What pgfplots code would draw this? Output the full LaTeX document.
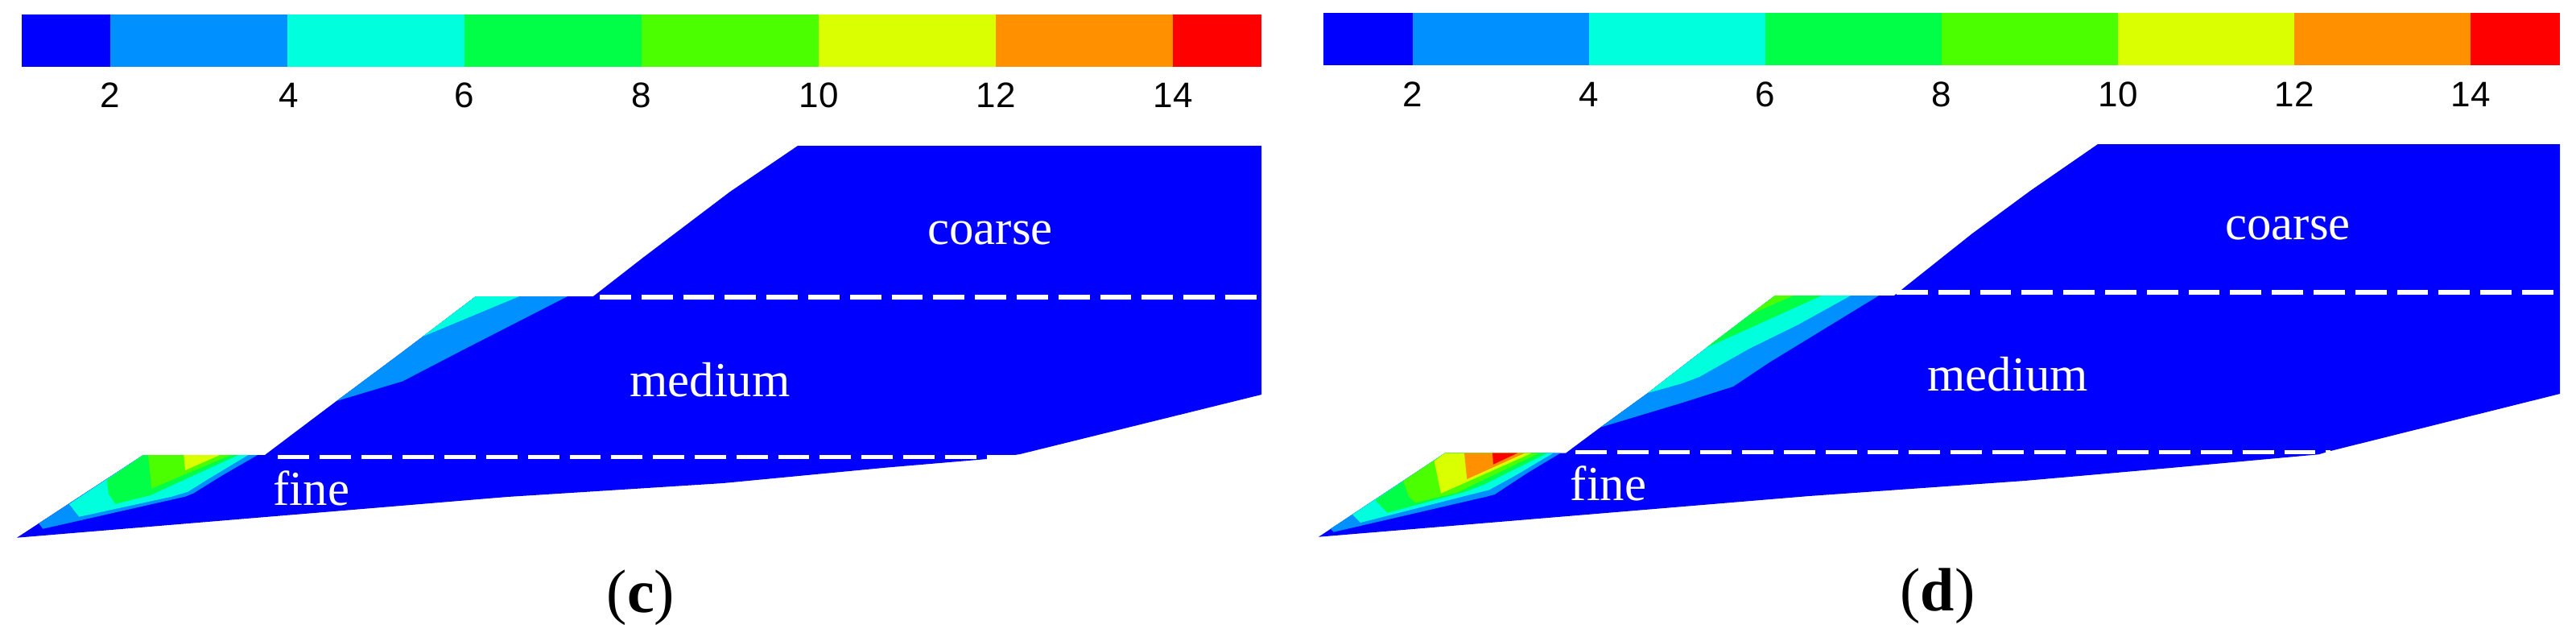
\documentclass[border=0pt]{standalone}
\usepackage{fontspec}
\setmainfont{Liberation Serif}
\newfontfamily\arialf{Liberation Sans}
\usepackage{pgfplots}
\pgfplotsset{compat=1.18}
\definecolor{c0}{HTML}{0000FF}
\definecolor{c2}{HTML}{0090FF}
\definecolor{c4}{HTML}{00FFDC}
\definecolor{c6}{HTML}{00FF46}
\definecolor{c8}{HTML}{4CFF00}
\definecolor{c10}{HTML}{DAFF00}
\definecolor{c12}{HTML}{FF9000}
\definecolor{c14}{HTML}{FF0000}
\newcommand{\poly}[2]{\addplot[fill=#1,draw=none,forget plot] coordinates {#2} --cycle;}
\newcommand{\dashln}[3]{\addplot[white,line width=1.4pt,dash pattern=on 9.7pt off 3.25pt,forget plot] coordinates {(#1,#3) (#2,#3)};}
\newcommand{\wtxt}[3]{\node[anchor=base,inner sep=0pt,text=white] at (axis cs:#1,#2) {\fontsize{15.2}{15.2}\selectfont #3};}
\newcommand{\cbl}[3]{\node[anchor=base,inner sep=0pt] at (axis cs:#1,#2) {\arialf\fontsize{11}{11}\selectfont #3};}
\begin{document}
\begin{tikzpicture}
\path (0,0) rectangle (800pt,198.75pt);
\begin{axis}[
  at={(0,0)}, anchor=south west, scale only axis,
  width=800pt, height=198.75pt,
  xmin=0, xmax=3200, ymin=0, ymax=795,
  y dir=reverse, hide axis, clip=false
]
% colour bar (c)
\poly{c0}{(27,18)(1567,18)(1567,83)(27,83)}
\poly{c2}{(137,18)(1567,18)(1567,83)(137,83)}
\poly{c4}{(357,18)(1567,18)(1567,83)(357,83)}
\poly{c6}{(577,18)(1567,18)(1567,83)(577,83)}
\poly{c8}{(797,18)(1567,18)(1567,83)(797,83)}
\poly{c10}{(1017,18)(1567,18)(1567,83)(1017,83)}
\poly{c12}{(1237,18)(1567,18)(1567,83)(1237,83)}
\poly{c14}{(1457,18)(1567,18)(1567,83)(1457,83)}
% colour bar (d)
\poly{c0}{(1644,16)(3180,16)(3180,81)(1644,81)}
\poly{c2}{(1755,16)(3180,16)(3180,81)(1755,81)}
\poly{c4}{(1974,16)(3180,16)(3180,81)(1974,81)}
\poly{c6}{(2193,16)(3180,16)(3180,81)(2193,81)}
\poly{c8}{(2412,16)(3180,16)(3180,81)(2412,81)}
\poly{c10}{(2631,16)(3180,16)(3180,81)(2631,81)}
\poly{c12}{(2850,16)(3180,16)(3180,81)(2850,81)}
\poly{c14}{(3069,16)(3180,16)(3180,81)(3069,81)}
% panel (c) outline
\poly{c0}{(21,667.7)(178,565)(329,565)(418,498)(500,437)(591,368)(737,368)(800,319)(907,238)(991,181)(1567,181)(1567,490)(1267,564)(1226,570)(1100,580.7)(898,600)(630,617)}
% panel (c) lower contours
\poly{c2}{(48.3,650)(178,565)(320,565)(276.7,590)(240,612.7)(230,616.7)(53.3,656.7)}
\poly{c4}{(86,626)(178,565)(308.3,565)(260,594)(233.3,610.7)(213.3,616.7)(98.3,641.7)}
\poly{c6}{(132.7,596)(178,565)(296,565)(186.7,615)(143.3,625.7)(135,613.3)}
\poly{c8}{(184,565)(286.7,565)(188.3,606.7)}
\poly{c10}{(228.3,565)(273.3,565)(230,584)}
% panel (c) upper contours
\poly{c2}{(418,498)(500,437)(591,368)(705,368)(578,433)(500,473.5)}
\poly{c4}{(525,418)(591,368)(645,368)}
% panel (d) outline
\poly{c0}{(1638,666.7)(1795,562.7)(1945,562.7)(1988,530.7)(2047,488)(2100,447)(2205,367)(2353,367)(2450,290)(2522,237)(2606,179)(3180,179)(3180,489)(2895,560)(2880,564.3)(2700,580.7)(2515,597)(2247,616)}
% panel (d) lower contours
\poly{c2}{(1652.7,656.7)(1795,562.7)(1938.3,562.7)(1898.3,586.7)(1856.7,614)(1846.7,616.7)(1656.7,660.7)}
\poly{c4}{(1680,639)(1795,562.7)(1929.3,562.7)(1883.3,590)(1850,608.3)(1823.3,615)(1690,649)}
\poly{c6}{(1708.3,621)(1795,562.7)(1921.7,562.7)(1843.3,601.7)(1820,610.7)(1723.3,636.7)}
\poly{c8}{(1743.3,597.3)(1795,562.7)(1911.7,562.7)(1810,611.7)(1758.3,624.3)(1750,616.7)}
\poly{c10}{(1781.7,572.7)(1795,562.7)(1902.7,562.7)(1790,612.7)}
\poly{c12}{(1819,562.7)(1894,562.7)(1822.3,595)}
\poly{c14}{(1854,562.7)(1885,562.7)(1855,576.7)}
% panel (d) upper contours
\poly{c2}{(1988,530.7)(2047,488)(2100,447)(2205,367)(2334,367)(2198,450)(2153,480)(2090,500)}
\poly{c4}{(2047,488)(2100,447)(2205,367)(2299,367)(2234,403)(2173,433)(2111,468)(2090,476)}
\poly{c6}{(2119,432)(2205,367)(2263,367)}
\poly{c8}{(2175,390)(2205,367)(2228,367)}
% dashed borders
\dashln{745}{1567}{369}
\dashln{345}{1265}{567.3}
\dashln{2356}{3180}{362.7}
\dashln{1957}{2895}{561.3}
% labels
\wtxt{1230}{303}{coarse}
\wtxt{882}{492}{medium}
\wtxt{387}{627}{fine}
\wtxt{2842}{297}{coarse}
\wtxt{2494}{485}{medium}
\wtxt{1998}{621}{fine}
% tick labels (c)
\cbl{137}{133}{2}\cbl{359}{133}{4}\cbl{577}{133}{6}\cbl{797}{133}{8}
\cbl{1017}{133}{10}\cbl{1237}{133}{12}\cbl{1457}{133}{14}
% tick labels (d)
\cbl{1755}{132}{2}\cbl{1974}{132}{4}\cbl{2193}{132}{6}\cbl{2412}{132}{8}
\cbl{2631}{132}{10}\cbl{2850}{132}{12}\cbl{3069}{132}{14}
% captions
\node[anchor=base,inner sep=0pt] at (axis cs:796,760) {\fontsize{19}{19}\selectfont (\textbf{c})};
\node[anchor=base,inner sep=0pt] at (axis cs:2407,758) {\fontsize{19}{19}\selectfont (\textbf{d})};
\end{axis}
\end{tikzpicture}
\end{document}
